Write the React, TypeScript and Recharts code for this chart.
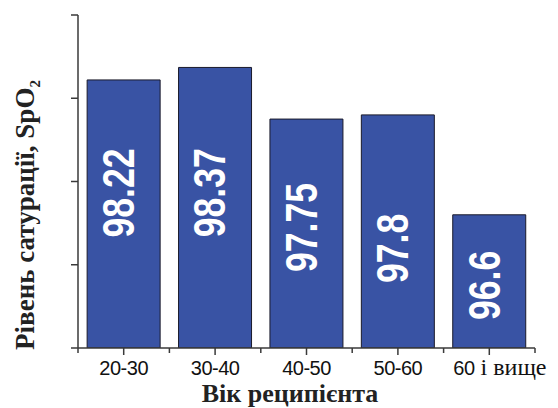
import React from 'react';
import { BarChart, Bar, XAxis, YAxis, LabelList } from 'recharts';

const ageGroups = ['20-30', '30-40', '40-50', '50-60', '60 і вище'];
const spo2Values = [98.22, 98.37, 97.75, 97.8, 96.6];
const yTicks = [95, 96, 97, 98, 99];
const yTitle = 'Рівень сатурації, SpO';
const xTitle = 'Вік реципієнта';

const data = ageGroups.map((age, i) => ({ age, spo2: spo2Values[i] }));

const W = 558;
const H = 408;
const Y_AXIS_W = 10;
const M = { top: 15, right: 23, left: 78 - Y_AXIS_W, bottom: 0 };
const BAND = (W - 78 - M.right) / ageGroups.length;
const AXIS = '#3a3a3a';
const BAR_FILL = '#3953A4';
const LABEL_DY = [-21, -15, -6, 17, 4];

const AgeTick = (props: any) => {
  const { x, y, payload, index } = props;
  const v: string = payload.value;
  const isLast = index === ageGroups.length - 1;
  let textEl;
  if (v.startsWith('60 ')) {
    textEl = (
      <text x={x - 36} y={y + 27} textAnchor="start" fill="#111">
        <tspan fontFamily="'Liberation Sans', Arial, sans-serif" fontSize={20} letterSpacing={-0.5}>60</tspan>
        <tspan fontFamily="'Liberation Serif', 'Times New Roman', serif" fontSize={24}>{v.slice(2)}</tspan>
      </text>
    );
  } else {
    textEl = (
      <text x={x} y={y + 27} textAnchor="middle" fill="#111" fontFamily="'Liberation Sans', Arial, sans-serif" fontSize={20} letterSpacing={-0.5}>
        {v}
      </text>
    );
  }
  return (
    <g>
      <line x1={x} x2={x} y1={y} y2={y + 7} stroke={AXIS} strokeWidth={1.5} />
      <line x1={x - BAND / 2} x2={x - BAND / 2} y1={y} y2={y + 5} stroke={AXIS} strokeWidth={1.5} />
      {isLast && <line x1={x + BAND / 2} x2={x + BAND / 2} y1={y} y2={y + 5} stroke={AXIS} strokeWidth={1.5} />}
      {textEl}
    </g>
  );
};

const EmptyTick = () => <g />;

const YTitle = () => (
  <text
    transform="translate(34 215) rotate(-90)"
    textAnchor="middle"
    fontFamily="'Liberation Serif', 'Times New Roman', serif"
    fontWeight="bold"
    fontSize={27}
    fill="#222"
  >
    {yTitle}
    <tspan fontSize={15} dy={6}>2</tspan>
  </text>
);

const XTitle = () => (
  <text
    x={290}
    y={402}
    textAnchor="middle"
    fontFamily="'Liberation Serif', 'Times New Roman', serif"
    fontWeight="bold"
    fontSize={26}
    fill="#222"
  >
    {xTitle}
  </text>
);

const BarValue = (props: any) => {
  const { x, y, width, height, value, index } = props;
  const cx = x + width / 2 - 5;
  const cy = y + height / 2 + LABEL_DY[index];
  return (
    <text
      transform={`translate(${cx} ${cy}) rotate(-90) scale(0.81 1)`}
      textAnchor="middle"
      dominantBaseline="central"
      fontFamily="'Liberation Sans', Arial, sans-serif"
      fontWeight="bold"
      fontSize={44}
      fill="#ffffff"
    >
      {String(value)}
    </text>
  );
};

export default function App() {
  return (
    <div style={{ position: 'absolute', left: 0, top: 0, width: W, height: H, background: '#fff' }}>
      <BarChart width={W} height={H} data={data} margin={M} barCategoryGap="10%">
        <XAxis
          dataKey="age"
          height={60}
          interval={0}
          tickLine={false}
          tickSize={0}
          tickMargin={0}
          axisLine={{ stroke: AXIS, strokeWidth: 1.5 }}
          tick={<AgeTick />}
          label={<XTitle />}
        />
        <YAxis
          width={Y_AXIS_W}
          domain={[95, 99]}
          ticks={yTicks}
          allowDataOverflow
          tickSize={7}
          tickLine={{ stroke: AXIS, strokeWidth: 1.5 }}
          axisLine={{ stroke: AXIS, strokeWidth: 1.5 }}
          tick={<EmptyTick />}
          label={<YTitle />}
        />
        <Bar dataKey="spo2" fill={BAR_FILL} stroke="#1a1a2a" strokeWidth={1} isAnimationActive={false}>
          <LabelList dataKey="spo2" content={<BarValue />} />
        </Bar>
      </BarChart>
    </div>
  );
}
